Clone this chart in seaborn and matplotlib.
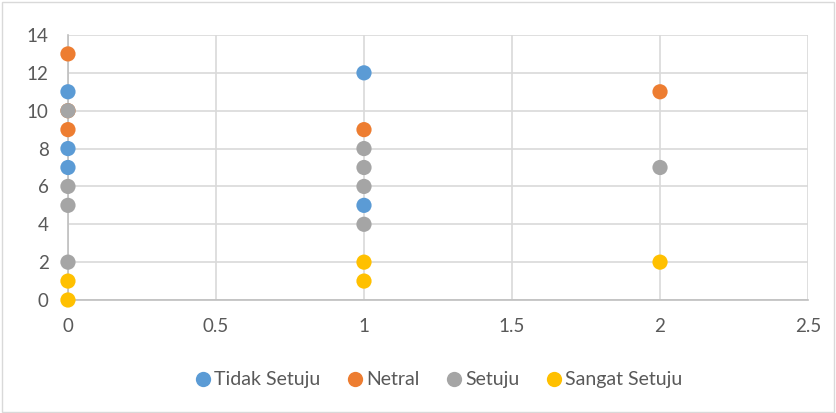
import pandas as pd
import matplotlib.pyplot as plt
import seaborn as sns

# values
tidak_x = [0, 0, 0, 1, 1]
tidak_y = [11, 8, 7, 12, 5]
netral_x = [0, 0, 0, 1, 2]
netral_y = [13, 10, 9, 9, 11]
setuju_x = [0, 0, 0, 0, 1, 1, 1, 1, 2]
setuju_y = [10, 6, 5, 2, 8, 7, 6, 4, 7]
sangat_x = [0, 0, 1, 1, 2]
sangat_y = [1, 0, 2, 1, 2]

series = ["Tidak Setuju", "Netral", "Setuju", "Sangat Setuju"]
colors = ["#5B9BD5", "#ED7D31", "#A5A5A5", "#FFC000"]

df = pd.concat([
    pd.DataFrame({"x": tidak_x, "y": tidak_y, "grp": series[0]}),
    pd.DataFrame({"x": netral_x, "y": netral_y, "grp": series[1]}),
    pd.DataFrame({"x": setuju_x, "y": setuju_y, "grp": series[2]}),
    pd.DataFrame({"x": sangat_x, "y": sangat_y, "grp": series[3]}),
], ignore_index=True)

sns.set_style("white")
plt.rcParams["font.family"] = ["Lato", "DejaVu Sans"]

fig = plt.figure(figsize=(8.37, 4.13), dpi=100)
ax = fig.add_axes([0.0812, 0.2736, 0.8842, 0.6417])

sns.scatterplot(
    data=df, x="x", y="y", hue="grp", hue_order=series,
    palette=colors, s=120, linewidth=0, ax=ax, zorder=3, legend=False,
    clip_on=False
)

ax.set_xlim(0, 2.5)
ax.set_ylim(0, 14)
ax.set_xticks([0, 0.5, 1, 1.5, 2, 2.5])
ax.set_xticklabels(["0", "0.5", "1", "1.5", "2", "2.5"])
ax.set_yticks(range(0, 15, 2))
ax.grid(True, color="#D9D9D9", linewidth=1.2)
ax.set_axisbelow(True)
for s in ["top", "right"]:
    ax.spines[s].set_visible(False)
ax.spines["left"].set_color("#BFBFBF")
ax.spines["bottom"].set_color("#BFBFBF")
ax.spines["left"].set_linewidth(1.2)
ax.spines["bottom"].set_linewidth(1.2)
ax.tick_params(axis="both", length=0, labelsize=13.5, labelcolor="#595959")
ax.tick_params(axis="y", pad=14)
ax.tick_params(axis="x", pad=13)
ax.set_xlabel("")
ax.set_ylabel("")

handles = [plt.Line2D([], [], marker="o", linestyle="", markersize=11,
                      markerfacecolor=c, markeredgewidth=0) for c in colors]
fig.legend(handles, series, loc="center", bbox_to_anchor=(0.522, 0.08), ncol=4,
           frameon=False, fontsize=14, labelcolor="#595959",
           handletextpad=0.0, columnspacing=1.15, handlelength=1.2)

fig.patches.append(plt.Rectangle((0.002, 0.003), 0.995, 0.993, transform=fig.transFigure,
                                 fill=False, edgecolor="#D9D9D9", linewidth=1))

fig.savefig("out.png", dpi=100)
